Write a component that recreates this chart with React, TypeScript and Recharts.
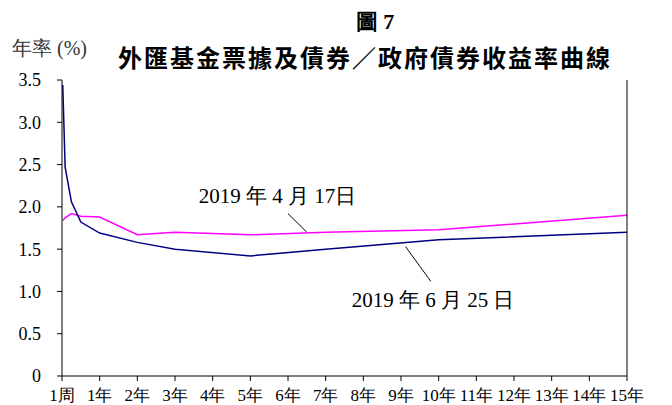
import { LineChart, Line, XAxis, YAxis, ReferenceLine, ReferenceDot } from "recharts";

// tenor in years, 1周 sits at the left edge
const tenorYears = [0.02, 0.083, 0.25, 0.5, 1, 2, 3, 5, 7, 10, 15];
const yieldApr17 = [1.84, 1.87, 1.92, 1.89, 1.88, 1.67, 1.70, 1.67, 1.70, 1.73, 1.90];
const yieldJun25 = [3.44, 2.47, 2.06, 1.82, 1.69, 1.58, 1.50, 1.42, 1.50, 1.61, 1.70];

const xTicks = [0, 1, 2, 3, 4, 5, 6, 7, 8, 9, 10, 11, 12, 13, 14, 15];
const xTickLabels = ["1周", "1年", "2年", "3年", "4年", "5年", "6年", "7年", "8年", "9年", "10年", "11年", "12年", "13年", "14年", "15年"];
const yTicks = [0, 0.5, 1, 1.5, 2, 2.5, 3, 3.5];

const data = tenorYears.map((t, i) => ({ t, apr: yieldApr17[i], jun: yieldJun25[i] }));

const SERIF = "Liberation Serif, serif";
const axisTick = { fontSize: 18, fill: "#000", fontFamily: SERIF };
const fmtY = (v: number) => (v === 0 ? "0" : v.toFixed(1));

export default function App() {
  return (
    <div style={{ position: "absolute", left: 0, top: 0, width: 672, height: 405, background: "#fff", fontFamily: SERIF }}>
      <div style={{ position: "absolute", left: 375, top: 11, transform: "translateX(-50%)", fontSize: 22, fontWeight: "bold", lineHeight: 1, whiteSpace: "nowrap" }}>
        圖 7
      </div>
      <div style={{ position: "absolute", left: 365, top: 45, transform: "translateX(-50%)", fontSize: 24, fontWeight: "bold", letterSpacing: 2, lineHeight: 1, whiteSpace: "nowrap", fontFamily: '"Noto Sans CJK TC", sans-serif' }}>
        外匯基金票據及債券／政府債券收益率曲線
      </div>
      <div style={{ position: "absolute", left: 12, top: 38, fontSize: 20, lineHeight: 1, whiteSpace: "nowrap", color: "#333" }}>
        年率 (%)
      </div>
      <LineChart width={672} height={405} data={data} margin={{ top: 80, right: 0, bottom: 0, left: 0 }}>
        <XAxis
          dataKey="t"
          type="number"
          domain={[0, 15]}
          ticks={xTicks}
          interval={0}
          tickFormatter={(v: number) => xTickLabels[xTicks.indexOf(v)]}
          height={29}
          tickSize={5}
          tickMargin={8}
          stroke="#000"
          tick={{ ...axisTick, fontSize: 17 }}
        />
        <YAxis
          yAxisId="left"
          domain={[0, 3.5]}
          ticks={yTicks}
          width={62}
          tickSize={5}
          tickMargin={16}
          stroke="#000"
          tick={axisTick}
          tickFormatter={fmtY}
        />
        <YAxis
          yAxisId="right"
          orientation="right"
          domain={[0, 3.5]}
          ticks={yTicks}
          width={45}
          tickSize={5}
          tickMargin={10}
          stroke="#000"
          tick={axisTick}
          tickFormatter={fmtY}
        />
        <Line yAxisId="left" dataKey="apr" stroke="#ff00ff" strokeWidth={1.5} dot={false} isAnimationActive={false} type="linear" />
        <Line yAxisId="left" dataKey="jun" stroke="#000080" strokeWidth={1.5} dot={false} isAnimationActive={false} type="linear" />
        <ReferenceLine yAxisId="left" segment={[{ x: 6.0, y: 1.92 }, { x: 6.5, y: 1.70 }]} stroke="#000" strokeWidth={1} />
        <ReferenceLine yAxisId="left" segment={[{ x: 9.12, y: 1.53 }, { x: 9.79, y: 1.12 }]} stroke="#000" strokeWidth={1} />
        <ReferenceDot
          yAxisId="left"
          x={5.72}
          y={2.13}
          r={1}
          fill="none"
          stroke="none"
          label={{ value: "2019 年 4 月 17日", position: "center", fontSize: 21, fill: "#000", fontFamily: SERIF }}
        />
        <ReferenceDot
          yAxisId="left"
          x={9.85}
          y={0.9}
          r={1}
          fill="none"
          stroke="none"
          label={{ value: "2019 年 6 月 25 日", position: "center", fontSize: 21, fill: "#000", fontFamily: SERIF }}
        />
      </LineChart>
    </div>
  );
}
